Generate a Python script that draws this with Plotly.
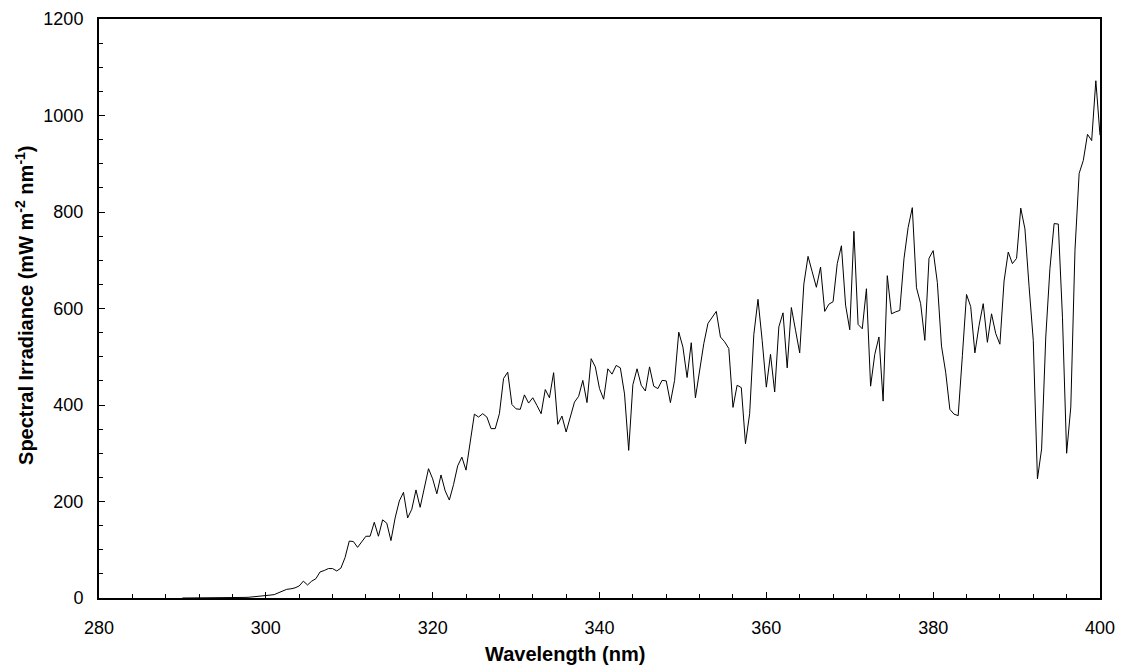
import numpy as np
import plotly.graph_objects as go

# Wavelength grid: 290 nm to 400 nm at 0.5 nm steps
wl_start = 290.0
wl_step = 0.5

# Spectral irradiance (mW m-2 nm-1), 10 nm per row
irr_290 = [0, 0, 0, 0, 0, 0, 0, 0, 0, 0, 0, 0, 0.3, 0.5, 0.8, 1.2, 1.6, 2.2, 3, 3.5]
irr_300 = [5, 6, 7, 11, 15, 18, 19, 21, 25, 35, 27, 35, 40, 54, 57, 61, 61, 56, 62, 84]
irr_310 = [118, 117, 105, 116, 128, 128, 157, 128, 162, 155, 119, 166, 201, 219, 166, 184, 224, 188, 228, 268]
irr_320 = [247, 216, 255, 222, 203, 235, 274, 292, 265, 323, 381, 375, 382, 375, 351, 351, 382, 455, 468, 401]
irr_330 = [392, 391, 421, 404, 415, 399, 382, 432, 415, 467, 360, 377, 344, 375, 406, 418, 451, 405, 496, 479]
irr_340 = [434, 412, 475, 464, 482, 477, 423, 306, 442, 475, 441, 429, 479, 439, 434, 451, 450, 405, 451, 551]
irr_350 = [520, 457, 529, 415, 472, 527, 569, 582, 594, 541, 531, 517, 395, 441, 436, 320, 382, 546, 619, 534]
irr_360 = [437, 505, 427, 562, 591, 477, 602, 555, 508, 651, 708, 676, 644, 686, 594, 609, 614, 693, 730, 607]
irr_370 = [556, 760, 567, 558, 641, 439, 505, 541, 408, 668, 589, 593, 596, 703, 768, 809, 643, 610, 534, 704]
irr_380 = [720, 654, 522, 468, 391, 381, 378, 502, 629, 604, 508, 565, 610, 530, 589, 548, 526, 657, 717, 693]
irr_390 = [704, 808, 765, 645, 534, 247, 309, 541, 683, 776, 775, 582, 300, 396, 721, 880, 907, 961, 948, 1072]
irr_400 = [959]

irradiance = (irr_290 + irr_300 + irr_310 + irr_320 + irr_330 + irr_340 + irr_350
              + irr_360 + irr_370 + irr_380 + irr_390 + irr_400)
wavelength = wl_start + wl_step * np.arange(len(irradiance))

x_ticks = [280, 300, 320, 340, 360, 380, 400]
y_ticks = [0, 200, 400, 600, 800, 1000, 1200]
x_title = "<b>Wavelength (nm)</b>"
y_title = "<b>Spectral Irradiance (mW m<sup>-2</sup> nm<sup>-1</sup>)</b>"

fig = go.Figure()
fig.add_trace(go.Scatter(x=wavelength, y=irradiance, mode="lines",
                         line=dict(color="black", width=1), showlegend=False))

font_family = "Liberation Sans, Arial, sans-serif"
axis_common = dict(showgrid=False, zeroline=False, showline=True, linecolor="black",
                   linewidth=2, mirror=True, ticks="inside", tickcolor="black",
                   tickwidth=1, tickfont=dict(family=font_family, size=18, color="black"))

fig.update_xaxes(range=[280, 400], tickvals=x_ticks, ticklen=6, ticklabelstandoff=12,
                 minor=dict(ticks="inside", dtick=4, tick0=280, ticklen=4,
                            tickcolor="black", tickwidth=1),
                 **axis_common)
fig.update_yaxes(range=[0, 1200], tickvals=y_ticks, ticklen=6, ticklabelstandoff=10,
                 minor=dict(ticks="inside", dtick=50, tick0=0, ticklen=4,
                            tickcolor="black", tickwidth=1),
                 **axis_common)

title_font = dict(family=font_family, size=20, color="black")
fig.add_annotation(text=x_title, xref="paper", yref="paper", x=0.4655, y=-0.097,
                   xanchor="center", yanchor="middle", showarrow=False, font=title_font)
fig.add_annotation(text=y_title, xref="paper", yref="paper", x=-0.075, y=0.506,
                   xanchor="center", yanchor="middle", showarrow=False, textangle=-90,
                   font=title_font)

fig.update_layout(width=1125, height=671, plot_bgcolor="white", paper_bgcolor="white",
                  margin=dict(l=91, r=33, t=11, b=81, autoexpand=False),
                  font=dict(family=font_family, color="black"))

fig.write_html("out.html")
